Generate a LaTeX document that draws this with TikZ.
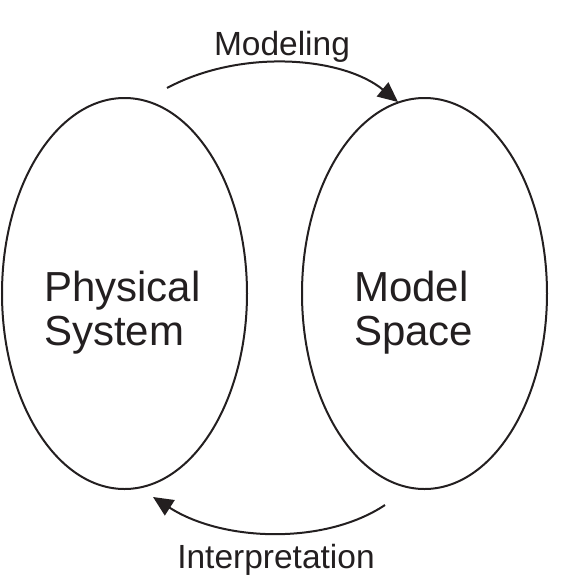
\documentclass[tikz,border=0pt]{standalone}
\usepackage{fontspec}
\setmainfont{Liberation Sans}
\usetikzlibrary{shapes.geometric,arrows.meta}
\definecolor{ink}{HTML}{231F20}
\begin{document}
\begin{tikzpicture}[x=1pt,y=-1pt,
  oval/.style={ellipse, draw=ink, line width=2pt, inner sep=0pt,
    minimum width=245pt, minimum height=391pt},
  bigtext/.style={text=ink, align=left, inner sep=0pt,
    font=\fontsize{42}{44}\selectfont},
  arrowlabel/.style={text=ink, inner sep=0pt,
    font=\fontsize{33.5}{36}\selectfont},
  flow/.style={draw=ink, line width=2pt,
    -{Triangle[length=20pt,width=18pt]}}]
\useasboundingbox (0,0) rectangle (575,576);
\node[oval] (phys) at (124.5,293.5) {};
\node[oval] (model) at (424.5,293.5) {};
\node[bigtext, anchor=base west] (physt) at (44,345) {Physical\\System};
\node[bigtext, anchor=base west] (modelt) at (354,345) {Model\\Space};
\coordinate (m1) at (167,88);
\coordinate (m2) at (398,102);
\coordinate (i1) at (385,505);
\coordinate (i2) at (153,497);
\draw[flow] (m1) .. controls (242,48) and (343,57) .. (m2);
\draw[flow] (i1) .. controls (325,545) and (223,542) .. (i2);
\node[arrowlabel, anchor=base] (modeling) at (282,55) {Modeling};
\node[arrowlabel, anchor=base] (interp) at (276,568) {Interpretation};
\end{tikzpicture}
\end{document}
